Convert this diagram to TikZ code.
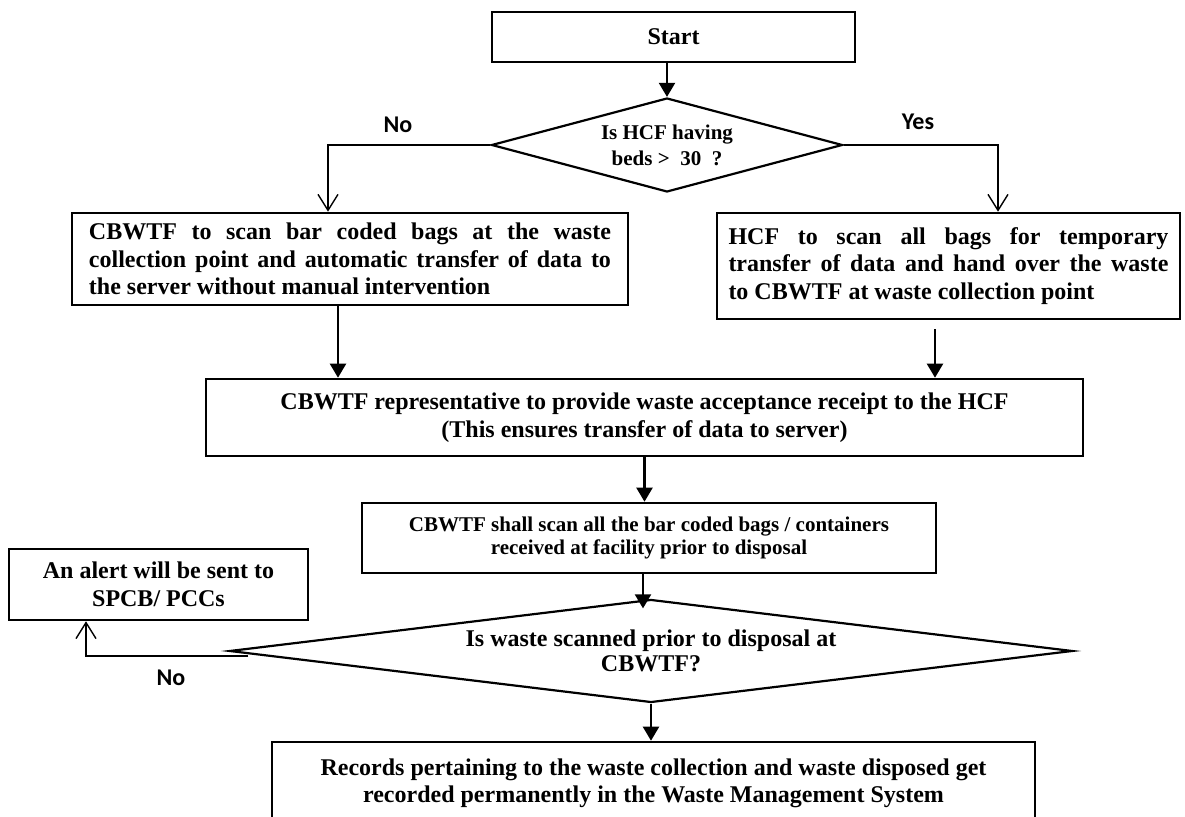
\documentclass[tikz,border=0pt]{standalone}
\usepackage{fontspec}
\setmainfont{Liberation Serif}
\newfontfamily\lblfont{Carlito}
\usetikzlibrary{shapes.geometric,arrows.meta}

\begin{document}
\begin{tikzpicture}[x=0.5pt, y=-0.5pt,
    box/.style={draw, line width=1.3pt, align=center, inner sep=2pt, font=\fontsize{12}{13.75}\selectfont\bfseries},
    smallbox/.style={box, font=\fontsize{10.5}{11.5}\selectfont\bfseries},
    jbox/.style={box, align=justify},
    decision/.style={diamond, draw, line width=1.1pt, align=center, inner sep=0pt},
    flow/.style={-{Triangle[width=8pt,length=7pt]}, line width=1.1pt},
    branch/.style={-{Straight Barb[width=10pt,length=8pt]}, line width=0.7pt},
    lbl/.style={font=\lblfont\bfseries\fontsize{12}{14}\selectfont}]
    \path[use as bounding box, clip] (0,0) rectangle (1185,817);
    \node[box, minimum width=181.5pt, minimum height=25pt] (start) at (673.5,37) {Start};
    \node[decision, minimum width=175.5pt, minimum height=47pt, shape aspect=3.7, font=\fontsize{10.5}{13}\selectfont\bfseries] (hcfq) at (667,145) {Is HCF having\\beds >\ \ 30\ \ ?};
    \node[jbox, text width=261pt, inner xsep=8.5pt, minimum height=46pt] (scan) at (350,259)
        {CBWTF to scan bar coded bags at the waste\linebreak collection point and automatic transfer of data to\linebreak the server without manual intervention};
    \node[jbox, text width=220pt, inner xsep=5.75pt, minimum height=53pt] (hcf) at (948.5,266)
        {HCF to scan all bags for temporary\linebreak transfer of data and hand over the waste\linebreak to CBWTF at waste collection point};
    \node[box, minimum width=438.5pt, minimum height=38.5pt] (rep) at (644.5,417.5)
        {CBWTF representative to provide waste acceptance receipt to the HCF\\(This ensures transfer of data to server)};
    \node[smallbox, minimum width=287pt, minimum height=35pt] (shall) at (649,538)
        {CBWTF shall scan all the bar coded bags / containers\\received at facility prior to disposal};
    \node[decision, minimum width=421.5pt, minimum height=51.5pt, shape aspect=8.2, font=\fontsize{12}{12.5}\selectfont\bfseries] (wasteq) at (651,651)
        {Is waste scanned prior to disposal at\\CBWTF?};
    \node[box, minimum width=149.5pt, minimum height=35.5pt, font=\fontsize{12}{14}\selectfont\bfseries] (alert) at (158.5,584.5)
        {An alert will be sent to\\SPCB/ PCCs};
    \node[box, minimum width=381.5pt, minimum height=41.5pt] (recs) at (653.5,783.5)
        {Records pertaining to the waste collection and waste disposed get\\recorded permanently in the Waste Management System};
    \node[lbl] (nohcf) at (398,125) {No};
    \node[lbl] (yeshcf) at (918,122) {Yes};
    \node[lbl] (nowaste) at (171,678) {No};
    \draw[flow] (start.south -| hcfq.north) -- (hcfq.north);
    \draw[branch] (hcfq.west) -| ([xshift=-11pt]scan.north);
    \draw[branch] (hcfq.east) -| ([xshift=24.75pt]hcf.north);
    \draw[flow] ([xshift=-6pt]scan.south) -- ([xshift=-6pt]scan.south |- rep.north);
    \draw[flow, shorten <=4.5pt] ([xshift=-6.75pt]hcf.south) -- ([xshift=-6.75pt]hcf.south |- rep.north);
    \draw[flow] (rep.south) -- (rep.south |- shall.north);
    \draw[flow, shorten >=-5pt] ([xshift=-3pt]shall.south) -- ([xshift=-3pt]shall.south |- wasteq.north);
    \draw[flow] (wasteq.south) -- (wasteq.south |- recs.north);
    \draw[branch] ([xshift=10pt, yshift=-2.5pt]wasteq.west) -| ([xshift=-36.25pt]alert.south);
\end{tikzpicture}
\end{document}
